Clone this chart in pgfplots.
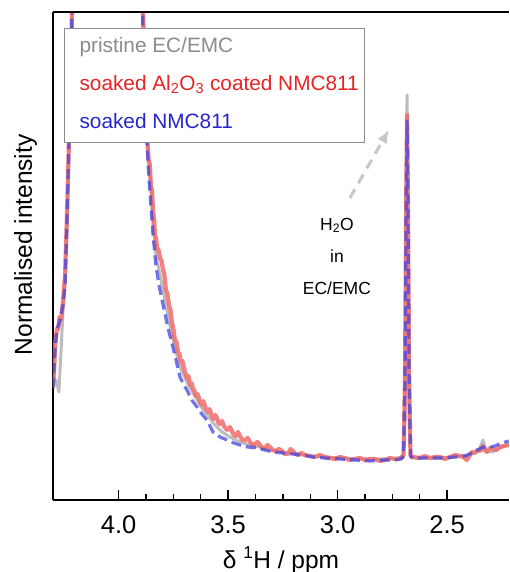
\documentclass[border=0pt]{standalone}
\usepackage{fontspec}
\setmainfont{Liberation Sans}
\usepackage{pgfplots}
\pgfplotsset{compat=1.18}
\usetikzlibrary{arrows.meta}
\definecolor{lgray}{HTML}{BDBDBD}
\definecolor{lred}{HTML}{F26A6A}
\definecolor{lblue}{HTML}{4646E0}
\definecolor{tgray}{HTML}{8C8C8C}
\definecolor{tred}{HTML}{E82424}
\definecolor{tblue}{HTML}{2626CC}
\begin{document}
\begin{tikzpicture}
\useasboundingbox (0,0) rectangle (509pt,572pt);
\begin{axis}[
  at={(53pt,72pt)}, anchor=south west,
  scale only axis, width=456pt, height=488pt,
  x dir=reverse, xmin=2.217, xmax=4.30, ymin=0, ymax=488,
  axis x line*=bottom, axis y line*=left,
  axis line style={-, line width=1.6pt, black},
  xtick={2.5,3.0,3.5,4.0}, minor x tick num=3, ytick=\empty,
  tick align=inside, major tick length=10pt, minor tick length=6pt,
  tick style={line width=1.4pt, black},
  /pgf/number format/assume math mode=true,
  xticklabel={\pgfmathprintnumber[fixed,fixed zerofill,precision=1]{\tick}},
  every x tick label/.append style={font=\fontsize{25.5}{30}\selectfont, anchor=base, yshift=-33.5pt},
  xlabel={δ \textsuperscript{1}H / ppm},
  xlabel style={at={(rel axis cs:0.5,0)}, anchor=base, yshift=-68pt, font=\fontsize{24.5}{29}\selectfont},
  ylabel={Normalised intensity},
  ylabel style={at={([xshift=-21pt]rel axis cs:0,0.523)}, anchor=base, rotate=0, font=\fontsize{24.5}{29}\selectfont},
  legend image code/.code={\path (0pt,0pt) (5pt,0pt);},
  legend cell align=left,
  legend style={at={(axis description cs:0.024,0.967)}, anchor=north west,
    draw=tgray, line width=0.8pt, inner xsep=6pt, inner ysep=0pt, row sep=0pt,
    font=\fontsize{20.8}{25}\selectfont,
    nodes={text height=15pt, text depth=4.5pt, inner ysep=9.25pt, inner xsep=0pt},
    /tikz/every odd column/.append style={column sep=0pt}},
]
% pristine EC/EMC
\addplot[lgray, line width=3pt, line join=round] coordinates {
(4.300,120) (4.286,120) (4.273,108) (4.263,150) (4.254,190) (4.245,215) (4.236,280) (4.227,360) (4.218,440) (4.209,530)
(4.15,900) (4.05,1000) (3.95,900)
(3.898,560) (3.889,475) (3.880,415) (3.871,362) (3.857,325) (3.843,275) (3.830,245) (3.811,225) (3.793,205) (3.775,185)
(3.757,165) (3.738,148) (3.720,133) (3.697,122) (3.674,112) (3.647,102) (3.620,92) (3.592,84) (3.560,75) (3.528,68)
(3.492,63) (3.446,58) (3.400,55) (3.355,53) (3.309,50) (3.254,48) (3.195,46) (3.126,44) (3.058,43) (2.989,42)
(2.898,41) (2.807,41) (2.725,41) (2.700,42) (2.692,80) (2.6865,320) (2.6826,405) (2.6787,320) (2.673,80) (2.665,42)
(2.601,42) (2.532,42) (2.463,43) (2.404,45) (2.373,48) (2.350,52) (2.336,60) (2.323,50) (2.295,48) (2.259,52) (2.218,56)
};
\addlegendentry{\textcolor{tgray}{pristine EC/EMC}}
% soaked Al2O3 coated NMC811
\addplot[lred, opacity=0.85, line width=4.2pt, line join=round] coordinates {
(4.300,112) (4.296,125) (4.293,140) (4.289,158) (4.286,165) (4.281,172) (4.277,170) (4.270,183) (4.263,180) (4.254,200) (4.245,225) (4.236,285) (4.227,360) (4.218,440) (4.209,530)
(4.15,900) (4.05,1000) (3.95,900)
(3.903,600) (3.889,490) (3.880,425) (3.871,365) (3.863,340) (3.858,336) (3.853,315) (3.848,310) (3.843,290) (3.838,280) (3.834,265) (3.829,262) (3.825,252) (3.818,250) (3.811,242)
(3.805,240) (3.799,232) (3.791,225) (3.784,210) (3.777,206) (3.770,195) (3.763,190) (3.757,178) (3.750,171) (3.743,160)
(3.736,158) (3.729,148) (3.722,146) (3.716,138) (3.709,139) (3.702,132) (3.695,127) (3.688,122) (3.681,124) (3.674,115)
(3.667,117) (3.661,112) (3.654,109) (3.647,104) (3.640,106) (3.633,102) (3.626,97) (3.620,95) (3.613,99) (3.606,94)
(3.599,90) (3.592,88) (3.585,91) (3.579,87) (3.572,83) (3.565,81) (3.558,85) (3.551,82) (3.544,77) (3.537,76)
(3.528,79) (3.519,74) (3.510,71) (3.501,70) (3.492,73) (3.483,69) (3.474,65) (3.464,64) (3.455,68) (3.446,64)
(3.435,60) (3.423,60) (3.411,62) (3.400,58) (3.389,55) (3.378,56) (3.366,58) (3.355,55) (3.343,52) (3.332,52)
(3.320,55) (3.309,53) (3.296,50) (3.282,49) (3.268,51) (3.254,49) (3.240,46) (3.227,46) (3.215,51) (3.204,49)
(3.192,46) (3.181,45) (3.165,47) (3.149,45) (3.127,44) (3.104,43) (3.081,45) (3.058,43) (3.035,42) (3.012,41)
(2.990,43) (2.967,42) (2.944,40) (2.921,41) (2.898,42) (2.875,40) (2.852,41) (2.830,41) (2.807,39) (2.784,40)
(2.761,42) (2.738,41) (2.711,42) (2.699,45) (2.692,120) (2.6865,300)
(2.6826,385) (2.6787,300) (2.673,120) (2.667,45) (2.656,43) (2.624,42) (2.601,44) (2.578,42) (2.555,43) (2.532,43) (2.509,41) (2.486,43) (2.463,45) (2.441,44)
(2.425,43) (2.410,40) (2.398,44) (2.387,48) (2.373,47) (2.359,50) (2.347,49) (2.336,54) (2.327,50) (2.318,48) (2.305,52) (2.291,51) (2.275,50) (2.259,53) (2.240,54) (2.218,55)
};
\addlegendentry{\textcolor{tred}{soaked Al\textsubscript{2}O\textsubscript{3} coated NMC811}}
% soaked NMC811
\addplot[lblue, opacity=0.75, line width=3.2pt, dash pattern=on 10pt off 5pt] coordinates {
(4.300,112) (4.291,150) (4.282,170) (4.268,180) (4.254,195) (4.245,215) (4.236,280) (4.227,360) (4.218,440) (4.209,530)
(4.15,900) (4.05,1000) (3.95,900)
(3.898,560) (3.889,470) (3.880,410) (3.871,360) (3.863,325) (3.853,295) (3.843,265) (3.830,235) (3.816,215) (3.802,200)
(3.789,187) (3.775,172) (3.757,157) (3.738,140) (3.720,123) (3.702,115) (3.688,110) (3.666,100) (3.642,93) (3.620,86)
(3.597,80) (3.569,68) (3.537,63) (3.505,60) (3.474,57) (3.446,55) (3.411,53) (3.368,52) (3.332,50) (3.295,48)
(3.250,47) (3.204,46) (3.158,45) (3.112,43) (3.058,42) (2.989,41) (2.921,40) (2.852,39) (2.784,40) (2.738,40)
(2.711,41) (2.699,44) (2.692,120) (2.6865,300) (2.6826,380) (2.6787,300) (2.673,120) (2.667,44) (2.656,42) (2.601,42)
(2.532,42) (2.463,43) (2.418,44) (2.387,47) (2.359,50) (2.336,53) (2.314,52) (2.282,54) (2.250,57) (2.218,59)
};
\addlegendentry{\textcolor{tblue}{soaked NMC811}}
\draw[line width=1.6pt, black] (rel axis cs:0,1) -- (rel axis cs:1,1);
\draw[gray!45, line width=3pt, dash pattern=on 10pt off 7pt, -{Latex[length=13pt,width=11pt]}] (axis cs:2.944,302) -- (axis cs:2.766,370);
\node[align=center, font=\fontsize{17.5}{32}\selectfont] at (axis cs:3.003,244) {H\textsubscript{2}O\\in\\EC/EMC};
\end{axis}
\end{tikzpicture}
\end{document}
